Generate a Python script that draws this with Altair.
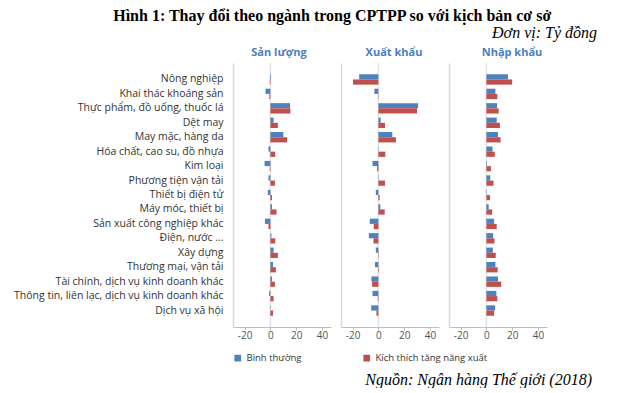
import altair as alt
import pandas as pd

categories = [
    "Nông nghiệp", "Khai thác khoáng sản", "Thực phẩm, đồ uống, thuốc lá",
    "Dệt may", "May mặc, hàng da", "Hóa chất, cao su, đồ nhựa", "Kim loại",
    "Phương tiện vận tải", "Thiết bị điện tử", "Máy móc, thiết bị",
    "Sản xuất công nghiệp khác", "Điện, nước ...", "Xây dựng",
    "Thương mại, vận tải", "Tài chính, dịch vụ kinh doanh khác",
    "Thông tin, liên lạc, dịch vụ kinh doanh khác", "Dịch vụ xã hội",
]
series = ["Bình thường", "Kích thích tăng năng xuất"]
panels = ["Sản lượng", "Xuất khẩu", "Nhập khẩu"]

san_luong_bt = [0.5, -3.75, 15.25, 2.5, 10, -1.5, -4.5, -1.5, -2, 1.25, -4.25, 0.75, 2.5, 2, 1.25, -1, 0.3]
san_luong_kt = [-0.5, -0.8, 15.5, 5.75, 13, 3.75, -0.5, 3.5, 1.25, 4.75, -1.5, 3.75, 5.75, 4.25, 3.5, 2.5, 2]
xuat_khau_bt = [-14.9, -3.1, 30.8, 1.8, 10.8, 0.3, -4.6, 0.3, -2, 1.5, -6.7, -7.4, -2, -2.6, -5.4, -4.6, -5.6]
xuat_khau_kt = [-19.7, -0.3, 30, 5.1, 13.6, 5.4, -1, 5.1, 1, 4.9, -3.6, -3.8, -0.3, 0.5, -4.9, -0.5, -1.5]
nhap_khau_bt = [16.75, 7, 8.25, 8, 9, 4.75, 0.5, 3, 0.3, 1.75, 6, 5.25, 5, 7, 9, 7.75, 6.75]
nhap_khau_kt = [20, 8.5, 9.5, 10.5, 11, 6.5, 3.5, 5.5, 2.75, 4.5, 8, 6.25, 7.25, 8.75, 11.5, 8.5, 6]

tick_values = [-20, 0, 20, 40]

BLUE = "#4f81bd"
RED = "#c0504d"
SANS = "Open Sans"
SERIF = "Liberation Serif"


def make_df(bt, kt):
    rows = []
    for c, a, b in zip(categories, bt, kt):
        rows.append({"cat": c, "series": series[0], "value": a})
        rows.append({"cat": c, "series": series[1], "value": b})
    return pd.DataFrame(rows)


def panel(bt, kt, title, dx, first):
    df = make_df(bt, kt)
    yaxis = alt.Axis(
        title=None, labels=first, ticks=False, domain=True,
        domainColor="#d9d9d9", domainWidth=1.5,
        labelFont=SANS, labelFontSize=10.5, labelColor="#333333",
        labelPadding=10, labelLimit=0,
    )
    xaxis = alt.Axis(
        values=tick_values, grid=False, title=None, domainColor="#bfbfbf",
        tickColor="#bfbfbf", tickSize=3, labelFont=SANS, labelFontSize=10,
        labelColor="#555555", labelPadding=0, labelOverlap=False,
        labelExpr="'' + datum.value",
    )
    if first:
        legend = alt.Legend(
            orient="bottom", direction="horizontal", offset=13,
            title=None, symbolType="square", symbolSize=45, symbolStrokeWidth=0,
            labelFont=SANS, labelFontSize=9.5, labelColor="#333333",
            columnPadding=60, labelLimit=0, padding=0,
        )
    else:
        legend = None
    bars = alt.Chart(df).mark_bar().encode(
        y=alt.Y("cat:N", sort=categories, axis=yaxis,
                scale=alt.Scale(paddingInner=0.28, paddingOuter=0.78)),
        yOffset=alt.YOffset("series:N", sort=series),
        x=alt.X("value:Q", axis=xaxis,
                scale=alt.Scale(domain=[-29, 47], nice=False, zero=False)),
        color=alt.Color("series:N", sort=series,
                        scale=alt.Scale(domain=series, range=[BLUE, RED]),
                        legend=legend),
    )
    zero = alt.Chart(pd.DataFrame({"z": [0]})).mark_rule(
        color="#e3e3e3", strokeWidth=1.5
    ).encode(x=alt.X("z:Q", axis=xaxis))
    return alt.layer(zero, bars).properties(
        width=98, height=264,
        title=alt.TitleParams(title, dx=dx, font=SANS, fontSize=11,
                              fontWeight="bold", color="#4a7fc1", offset=4,
                              frame="group"),
    )


p1 = panel(san_luong_bt, san_luong_kt, panels[0], -3, True)
p2 = panel(xuat_khau_bt, xuat_khau_kt, panels[1], 4, False)
p3 = panel(nhap_khau_bt, nhap_khau_kt, panels[2], 14, False)

row = alt.hconcat(p1, p2, p3, spacing=10, bounds="flush").resolve_legend(
    color="independent"
).properties(
    title=alt.TitleParams("Đơn vị: Tỷ đồng", anchor="end", dx=50, frame="bounds",
                          font=SERIF, fontSize=16, fontStyle="italic",
                          fontWeight="normal", color="#000000", offset=6)
)
with_source = alt.vconcat(row).properties(
    title=alt.TitleParams("Nguồn: Ngân hàng Thế giới (2018)", orient="bottom",
                          anchor="end", dx=-5, frame="bounds", font=SERIF,
                          fontSize=16, fontStyle="italic", fontWeight="normal",
                          color="#000000", offset=9)
)
chart = alt.vconcat(with_source).properties(
    title=alt.TitleParams("Hình 1: Thay đổi theo ngành trong CPTPP so với kịch bản cơ sở",
                          anchor="middle", dx=27, font=SERIF, fontSize=16,
                          fontWeight="bold", color="#000000", offset=1),
    padding={"left": 5, "top": 0, "right": 0, "bottom": 0},
).configure_view(stroke=None).configure_concat(spacing=0)

chart.save("out.html", embed_options={"renderer": "svg", "actions": False})
